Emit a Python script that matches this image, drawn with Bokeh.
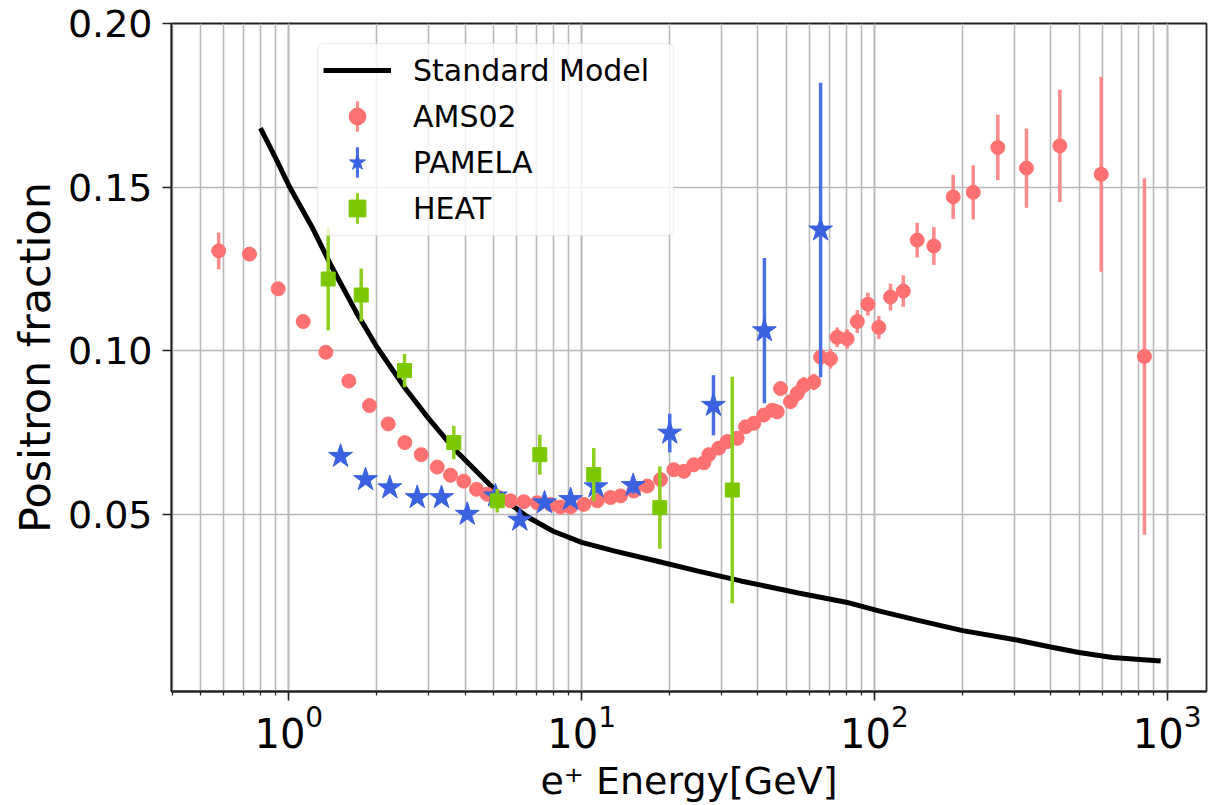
import numpy as np
from bokeh.plotting import figure
from bokeh.models import (Range1d, FixedTicker, PrintfTickFormatter, LogTicker,
                          Legend, LegendItem, ColumnDataSource, BoxAnnotation)
from bokeh.embed import file_html
from bokeh.resources import INLINE

# ---------------- data ----------------
sm_energy = [0.80, 0.90, 1.0, 1.2, 1.4, 1.7, 2.0, 2.5, 3.0, 3.7, 4.5, 5.5, 6.5, 8.0,
             10, 13, 18, 25, 35, 55, 80, 105, 140, 200, 300, 400, 500, 650, 950]
sm_fraction = [0.168, 0.159, 0.1505, 0.1378, 0.1257, 0.1117, 0.1011, 0.0884, 0.0793,
               0.0696, 0.0620, 0.0542, 0.0493, 0.0448, 0.0414, 0.0387, 0.0357, 0.0326,
               0.0296, 0.0259, 0.0231, 0.0203, 0.0176, 0.0144, 0.0117, 0.0094, 0.0077,
               0.0062, 0.0051]

ams_energy = [0.576, 0.734, 0.920, 1.12, 1.338, 1.603, 1.886, 2.185, 2.49, 2.833, 3.212,
              3.567, 3.96, 4.375, 4.76, 5.214, 5.716, 6.35, 7.05, 7.83, 8.47, 9.17,
              10.17, 11.31, 12.55, 13.58, 15.08, 16.75, 18.6, 20.65, 22.34, 24.16, 26.14,
              27.2, 29.42, 31.43, 34.0, 36.29, 38.73, 41.9, 44.77, 46.56, 47.79, 51.7,
              54.5, 57.4, 62.1, 65.5, 70.8, 74.6, 80.7, 87.4, 95.0, 103.5, 113.5, 125.5,
              140.0, 159.6, 185.8, 217.5, 263.9, 330.7, 429.8, 595.0, 836.0]
ams_fraction = [0.1305, 0.1295, 0.1189, 0.1089, 0.0995, 0.0907, 0.0832, 0.0776, 0.0719,
                0.0682, 0.0644, 0.0619, 0.0601, 0.0576, 0.0561, 0.0551, 0.0541, 0.0538,
                0.0535, 0.0530, 0.0522, 0.0522, 0.0530, 0.0541, 0.0551, 0.0556, 0.0571,
                0.0586, 0.0606, 0.0636, 0.0631, 0.0651, 0.0657, 0.0682, 0.0702, 0.0722,
                0.0732, 0.0767, 0.0778, 0.0803, 0.0818, 0.0813, 0.0884, 0.0844, 0.0869,
                0.0894, 0.0904, 0.0980, 0.0975, 0.1041, 0.1036, 0.1089, 0.1142, 0.1071,
                0.1164, 0.1182, 0.1338, 0.1320, 0.1470, 0.1484, 0.1621, 0.1558, 0.1626,
                0.1539, 0.0982]
ams_error = [0.0056, 0.002, 0.0015, 0.001, 0.001, 0.001, 0.001, 0.001, 0.001, 0.001,
             0.001, 0.001, 0.001, 0.001, 0.001, 0.001, 0.001, 0.001, 0.001, 0.001,
             0.001, 0.001, 0.001, 0.001, 0.001, 0.001, 0.001, 0.001, 0.001, 0.0015,
             0.0015, 0.0015, 0.0015, 0.0015, 0.0015, 0.0015, 0.0015, 0.002, 0.002,
             0.002, 0.002, 0.002, 0.002, 0.002, 0.0025, 0.0025, 0.0025, 0.003, 0.003,
             0.003, 0.003, 0.0035, 0.0035, 0.0035, 0.0041, 0.0048, 0.0053, 0.0058,
             0.0068, 0.0083, 0.0100, 0.0121, 0.0172, 0.0298, 0.0545]

pamela_energy = [1.502, 1.828, 2.213, 2.745, 3.323, 4.068, 5.08, 6.15, 7.47, 9.17,
                 11.2, 15.0, 20.0, 28.2, 42.1, 65.5]
pamela_fraction = [0.0677, 0.0606, 0.0581, 0.0551, 0.0551, 0.0500, 0.0556, 0.0482,
                   0.0535, 0.0545, 0.0584, 0.0588, 0.0748, 0.0833, 0.1061, 0.1369]
pamela_error = [0.001, 0.001, 0.001, 0.001, 0.001, 0.001, 0.001, 0.001, 0.0012,
                0.0015, 0.002, 0.0025, 0.0059, 0.0092, 0.0222, 0.0450]

heat_energy = [1.363, 1.767, 2.484, 3.66, 5.15, 7.2, 11.0, 18.5, 32.7]
heat_fraction = [0.1219, 0.1170, 0.0939, 0.0719, 0.0541, 0.0682, 0.0621, 0.0520, 0.0574]
heat_error = [0.0157, 0.0081, 0.0051, 0.0051, 0.0036, 0.0061, 0.0081, 0.0126, 0.0346]

y_ticks = [0.05, 0.10, 0.15, 0.20]
series_labels = ["Standard Model", "AMS02", "PAMELA", "HEAT"]

FONT = "DejaVu Sans"

# ---------------- figure ----------------
p = figure(width=1212, height=805, x_axis_type="log",
           x_range=Range1d(0.3975, 1362), y_range=Range1d(-0.0042, 0.2),
           output_backend="svg", toolbar_location=None,
           min_border_left=171, min_border_right=6, min_border_top=23,
           min_border_bottom=114)
p.background_fill_color = "white"
p.border_fill_color = "white"
p.outline_line_color = "#222222"
p.outline_line_width = 1.8

# grids
grid_col = "#b8b8b8"
p.xgrid.grid_line_color = grid_col
p.xgrid.grid_line_width = 1.6
p.xgrid.minor_grid_line_color = grid_col
p.xgrid.minor_grid_line_width = 1.6
p.ygrid.grid_line_color = grid_col
p.ygrid.grid_line_width = 1.6

# axes
p.xaxis.ticker = LogTicker(num_minor_ticks=10)
p.yaxis.ticker = FixedTicker(ticks=y_ticks)
p.yaxis.formatter = PrintfTickFormatter(format="%.2f")
for ax in (p.xaxis[0], p.yaxis[0]):
    ax.axis_line_color = "#222222"
    ax.axis_line_width = 1.8
    ax.major_tick_line_color = "#222222"
    ax.major_tick_line_width = 1.6
    ax.major_tick_out = 9
    ax.major_tick_in = 0
    ax.minor_tick_line_color = "#222222"
    ax.minor_tick_line_width = 1.2
    ax.minor_tick_out = 4
    ax.minor_tick_in = 0
    ax.major_label_text_font = FONT
    ax.major_label_text_color = "black"
    ax.axis_label_text_font = FONT
    ax.axis_label_text_font_style = "normal"
    ax.axis_label_text_color = "black"
p.xaxis.major_label_text_font_size = "40px"
p.yaxis.major_label_text_font_size = "38px"
p.yaxis.minor_tick_line_color = None
p.yaxis.major_label_standoff = 10
p.xaxis.major_label_standoff = 4
p.xaxis.axis_label = "e\u207a Energy[GeV]"
p.xaxis.axis_label_text_font_size = "38px"
p.xaxis.axis_label_standoff = 8
p.yaxis.axis_label = "Positron fraction"
p.yaxis.axis_label_text_font_size = "43px"
p.yaxis.axis_label_standoff = 5

# ---------------- glyphs ----------------
sm_line = p.line(sm_energy, sm_fraction, line_color="black", line_width=5)

def series(xs, ys, errs, color, bar_color, marker, size):
    e = np.array(errs)
    src = ColumnDataSource(dict(x=xs, y=ys, h=(2 * e).tolist()))
    # error bars: thin rectangles, 3.5 px wide, spanning y +/- error
    bars = p.rect(x="x", y="y", width=3.5, height="h", width_units="screen",
                  source=src, fill_color=bar_color, line_color=None)
    mk = p.scatter(x="x", y="y", source=src, marker=marker, size=size,
                   fill_color=color, line_color=color, line_width=1)
    return bars, mk

ams_bar, ams_mk = series(ams_energy, ams_fraction, ams_error, "#ff7070", "#ff8a8a", "circle", 14)
pam_bar, pam_mk = series(pamela_energy, pamela_fraction, pamela_error, "#3a62e0", "#4a70e6", "star", 25)
heat_bar, heat_mk = series(heat_energy, heat_fraction, heat_error, "#7cc800", "#8ccf1c", "square", 14)

# ---------------- legend ----------------
LEG_X, LEG_BOTTOM = 146, 456          # frame-relative screen position of the legend box
PAD, ROW_H, SPACING, GLYPH_W = 6, 42, 4, 68
leg_h = 2 * PAD + 4 * ROW_H + 3 * SPACING

box = BoxAnnotation(left=LEG_X, right=LEG_X + 356, bottom=LEG_BOTTOM, top=LEG_BOTTOM + leg_h,
                    left_units="screen", right_units="screen",
                    bottom_units="screen", top_units="screen",
                    fill_color="white", fill_alpha=0.8,
                    line_color="#cccccc", line_width=1.5)
if "border_radius" in BoxAnnotation.properties():
    box.border_radius = 6
p.add_layout(box)

# error-bar samples in the legend: one tiny legend per row whose glyph box is a
# narrow, tall rectangle (area glyphs fill 80% of the glyph box)
BAR_W, BAR_H = 4, 38
glyph_cx = LEG_X + PAD + GLYPH_W / 2
for row, bar in zip([1, 2, 3], [ams_bar, pam_bar, heat_bar]):
    row_center = LEG_BOTTOM + leg_h - (PAD + row * (ROW_H + SPACING) + ROW_H / 2)
    lg = Legend(items=[LegendItem(label=" ", renderers=[bar])],
                location=(glyph_cx - BAR_W / 2, row_center - BAR_H / 2))
    lg.margin = 0
    lg.padding = 0
    lg.glyph_width = BAR_W
    lg.glyph_height = BAR_H
    lg.label_standoff = 0
    lg.label_width = 0
    lg.label_height = 0
    lg.label_text_font_size = "1px"
    lg.background_fill_alpha = 0.0
    lg.border_line_color = None
    p.add_layout(lg, "center")

legend = Legend(items=[
    LegendItem(label=series_labels[0], renderers=[sm_line]),
    LegendItem(label=series_labels[1], renderers=[ams_mk]),
    LegendItem(label=series_labels[2], renderers=[pam_mk]),
    LegendItem(label=series_labels[3], renderers=[heat_mk]),
], location=(LEG_X, LEG_BOTTOM))
legend.margin = 0
legend.padding = PAD
legend.spacing = SPACING
legend.glyph_width = GLYPH_W
legend.glyph_height = ROW_H
legend.label_height = ROW_H
legend.label_standoff = 22
legend.label_text_font = FONT
legend.label_text_font_size = "30px"
legend.label_text_color = "black"
legend.background_fill_alpha = 0.0
legend.border_line_color = "white"
legend.border_line_alpha = 0.0
p.add_layout(legend, "center")

open("out.html", "w").write(file_html(p, INLINE))
